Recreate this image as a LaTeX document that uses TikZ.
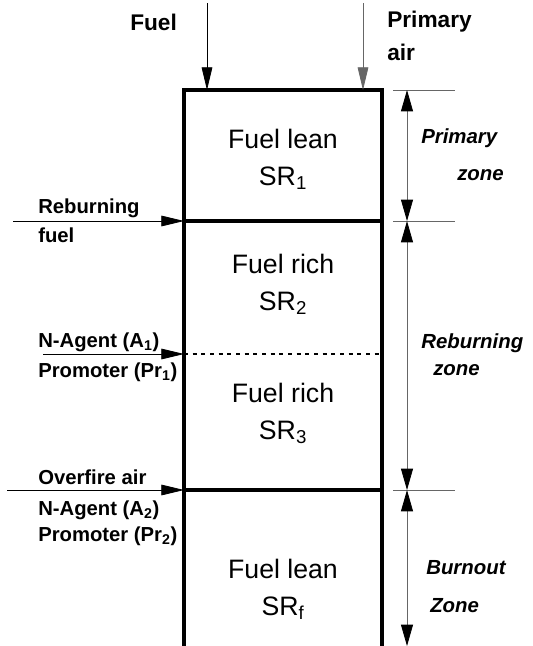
\documentclass[tikz,border=0pt]{standalone}
\usepackage{fontspec}
\setmainfont{Liberation Sans}
\usetikzlibrary{arrows.meta, positioning, calc}

\tikzset{
  wall/.style={line width=2.8pt},
  feed/.style={line width=0.6pt, -{Triangle[length=17pt,width=8pt]}},
  dim/.style={line width=0.6pt, black!60, {Triangle[length=16pt,width=9pt,black]}-{Triangle[length=16pt,width=9pt,black]}},
  zonetxt/.style={font=\fontsize{20}{24}\selectfont, inner sep=0pt, anchor=base},
  inlet/.style={font=\fontsize{15.2}{17}\selectfont\bfseries, anchor=west, inner sep=0pt},
  toplbl/.style={font=\fontsize{17}{19}\selectfont\bfseries, anchor=west, inner sep=0pt},
  zonelbl/.style={font=\fontsize{15.3}{17}\selectfont\bfseries\itshape, anchor=west, inner sep=0pt}
}

\begin{document}
\begin{tikzpicture}[x=0.75pt,y=-0.75pt]
  \useasboundingbox (0,0) rectangle (532,646);
  % zone boundaries: wall left, wall right, dimension line
  \foreach \y\n in {90/0,221/1,354/2,490/3,646/4} {
    \coordinate (L\n) at (184,\y);
    \coordinate (R\n) at (382,\y);
    \coordinate (D\n) at (407,\y);
  }
  % reactor walls
  \draw[wall] (L4) -- (L0) -- (R0) -- (R4);
  \draw[wall] (L1) -- (R1);
  \draw[wall] (L3) -- (R3);
  \draw[line width=1pt, dash pattern=on 3pt off 3.5pt] (L2) -- (R2);

  % top feeds
  \coordinate (F0) at (207,3);
  \coordinate (F1) at (207,90);
  \coordinate (A0) at (363,3);
  \coordinate (A1) at (363,90);
  \draw[feed] (F0) -- (F1);
  \draw[feed, black!60] (A0) -- (A1);
  \node[toplbl] (fuel) at (130,22) {Fuel};
  \node[toplbl] (pa1) at (387,22) {Primary};
  \node[toplbl] (pa2) at (387,52) {air};

  % side feeds
  \coordinate (S1) at (13,221);
  \coordinate (S2) at (43,354);
  \coordinate (S3) at (7,490);
  \foreach \n in {1,2,3} {
    \draw[feed] (S\n) -- (L\n);
  }
  \node[inlet] (rf1) at (38,208) {Reburning};
  \node[inlet] (rf2) at (38,235) {fuel};
  \node[inlet] (na1) at (38,342) {N-Agent (A\textsubscript{1})};
  \node[inlet] (pr1) at (38,372) {Promoter (Pr\textsubscript{1})};
  \node[inlet] (ofa) at (38,477) {Overfire air};
  \node[inlet] (na2) at (38,510) {N-Agent (A\textsubscript{2})};
  \node[inlet] (pr2) at (38,536) {Promoter (Pr\textsubscript{2})};

  % zone contents
  \foreach \y\a\b in {138/Fuel lean/1,263/Fuel rich/2,392/Fuel rich/3,568/Fuel lean/f} {
    \node[zonetxt] (Z\b) at (283,\y+10) {\a};
    \node[zonetxt] (SR\b) at (283,\y+47) {SR\textsubscript{\b}};
  }

  % dimension lines
  \foreach \n in {0,1,3} {
    \draw[line width=0.6pt, black!60] ($(D\n)+(-14,0)$) -- ($(D\n)+(48,0)$);
  }
  \draw[dim] (D0) -- (D1);
  \draw[dim] (D1) -- (D3);
  \draw[dim] (D3) -- (D4);
  \node[zonelbl] (pz1) at (421,138) {Primary};
  \node[zonelbl] (pz2) at (457,175) {zone};
  \node[zonelbl] (rz1) at (421,343) {Reburning};
  \node[zonelbl] (rz2) at (433,370) {zone};
  \node[zonelbl] (bz1) at (426,568) {Burnout};
  \node[zonelbl] (bz2) at (430,606) {Zone};
\end{tikzpicture}
\end{document}
